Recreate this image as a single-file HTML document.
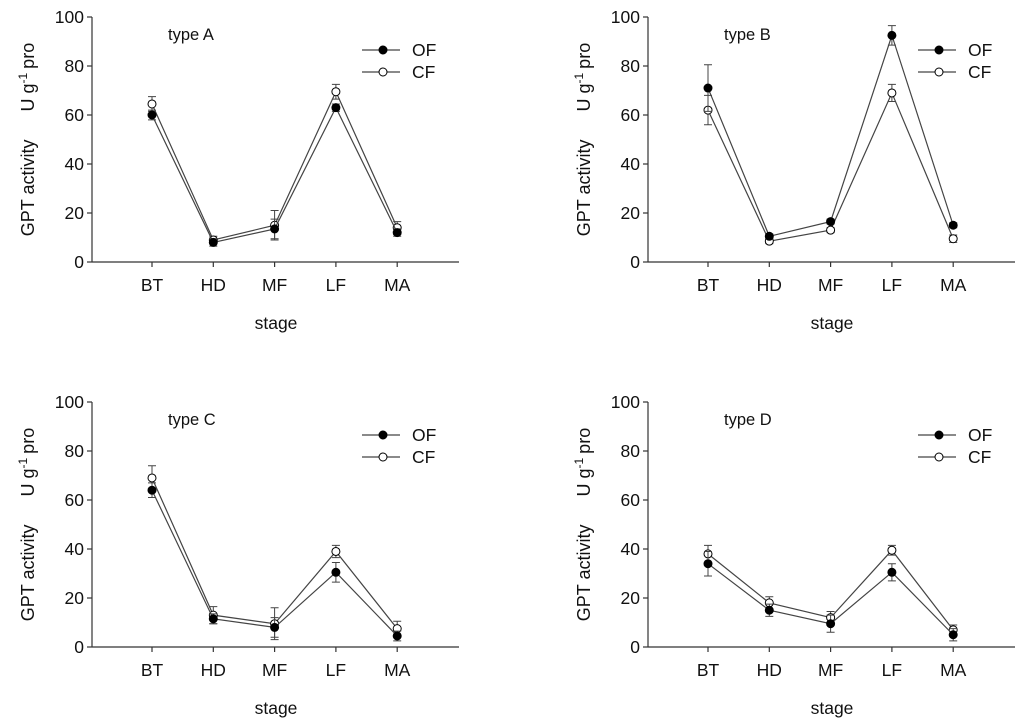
<!DOCTYPE html>
<html><head><meta charset="utf-8"><style>
body{margin:0;background:#fff;}
svg{display:block;font-family:"Liberation Sans",Arial,sans-serif;}
</style></head><body>
<svg id="chart" width="1024" height="721"></svg>
<script>
const categories=["BT","HD","MF","LF","MA"];
const yTicks=[0,20,40,60,80,100];
const panelTitles=["type A","type B","type C","type D"];
const ofA=[60,8,13.5,63,12], cfA=[64.5,9,15,69.5,14];
const ofAErr=[2,1.5,4,1.5,1.5], cfAErr=[3,1.5,6,3,2.5];
const ofB=[71,10.5,16.5,92.5,15], cfB=[62,8.5,13,69,9.5];
const ofBErr=[9.5,1,1,4,1], cfBErr=[6,1,1,3.5,1.5];
const ofC=[64,11.5,8,30.5,4.5], cfC=[69,13,9.5,39,7.5];
const ofCErr=[3,2,4,4,2], cfCErr=[5,3.5,6.5,2.5,3];
const ofD=[34,15,9.5,30.5,5], cfD=[38,18,12,39.5,7];
const ofDErr=[5,2.5,3.5,3.5,2.5], cfDErr=[3.5,2.5,2.5,2,2];

const NS="http://www.w3.org/2000/svg";
const svg=document.getElementById('chart');
function mk(tag,attrs,parent,txt){const e=document.createElementNS(NS,tag);for(const k in attrs)e.setAttribute(k,attrs[k]);if(txt!==undefined)e.textContent=txt;parent.appendChild(e);return e;}

const panels=[
 {ox:92,oy:17,of:ofA,cf:cfA,ofe:ofAErr,cfe:cfAErr,name:'panel-type-a'},
 {ox:648,oy:17,of:ofB,cf:cfB,ofe:ofBErr,cfe:cfBErr,name:'panel-type-b'},
 {ox:92,oy:402,of:ofC,cf:cfC,ofe:ofCErr,cfe:cfCErr,name:'panel-type-c'},
 {ox:648,oy:402,of:ofD,cf:cfD,ofe:ofDErr,cfe:cfDErr,name:'panel-type-d'}];

panels.forEach((p,pi)=>{
 const g=mk('g',{transform:`translate(${p.ox},${p.oy})`},svg);
 
 
 const H=245, W=367;
 const y=v=>H-v/100*H;
 const x=i=>60+i*61.3;
 const ax=mk('g',{stroke:'#333','stroke-width':1.2},g);
 
 
 mk('line',{x1:0,y1:0,x2:0,y2:H},ax);
 mk('line',{x1:0,y1:H,x2:W,y2:H},ax);
 yTicks.forEach(t=>{
  mk('line',{x1:-5,y1:y(t),x2:0,y2:y(t)},ax);
  const tl=mk('text',{x:-8,y:y(t)+6,'text-anchor':'end','font-size':17.5,fill:'#111'},g,String(t));
  
  
 });
 categories.forEach((c,i)=>{
  mk('line',{x1:x(i),y1:H,x2:x(i),y2:H+5},ax);
  const cl=mk('text',{x:x(i),y:H+29,'text-anchor':'middle','font-size':17.5,fill:'#111'},g,c);
  
  
 });
 const xt=mk('text',{x:184,y:H+67,'text-anchor':'middle','font-size':17.5,fill:'#111'},g,'stage');
 
 
 const yt=mk('text',{transform:`translate(-58,${H/2}) rotate(-90)`,'text-anchor':'middle','font-size':18,fill:'#111'},g);
 
 
 mk('tspan',{},yt,'GPT activity');
 mk('tspan',{dx:28},yt,'U g');
 mk('tspan',{dy:-7,'font-size':12},yt,'-1');
 mk('tspan',{dy:7,dx:4},yt,'pro');
 const tt=mk('text',{x:76,y:23,'font-size':16.5,fill:'#111'},g,panelTitles[pi]);
 
 
 [[p.cf,p.cfe,'#fff','cf'],[p.of,p.ofe,'#000','of']].forEach(([vals,errs,fill,nm])=>{
  const sg=mk('g',{},g);
  
  
  mk('polyline',{points:vals.map((v,i)=>`${x(i)},${y(v)}`).join(' '),fill:'none',stroke:'#444','stroke-width':1.2},sg);
  vals.forEach((v,i)=>{
   const e=errs[i];
   mk('path',{d:`M${x(i)},${y(v+e)}V${y(v-e)}M${x(i)-4},${y(v+e)}H${x(i)+4}M${x(i)-4},${y(v-e)}H${x(i)+4}`,stroke:'#444','stroke-width':1,fill:'none'},sg);
   const c=mk('circle',{cx:x(i),cy:y(v),r:4,fill:fill,stroke:'#000','stroke-width':1},sg);
   
   
  });
 });
 const lg=mk('g',{},g);
 
 
 [['OF','#000',33],['CF','#fff',55]].forEach(([lab,f,ly])=>{
  mk('line',{x1:270,y1:ly,x2:308,y2:ly,stroke:'#444','stroke-width':1.2},lg);
  mk('circle',{cx:291,cy:ly,r:4,fill:f,stroke:'#000'},lg);
  const lt=mk('text',{x:320,y:ly+6,'font-size':17.5,fill:'#111'},lg,lab);
  
  
 });
});
</script>
</body></html>
